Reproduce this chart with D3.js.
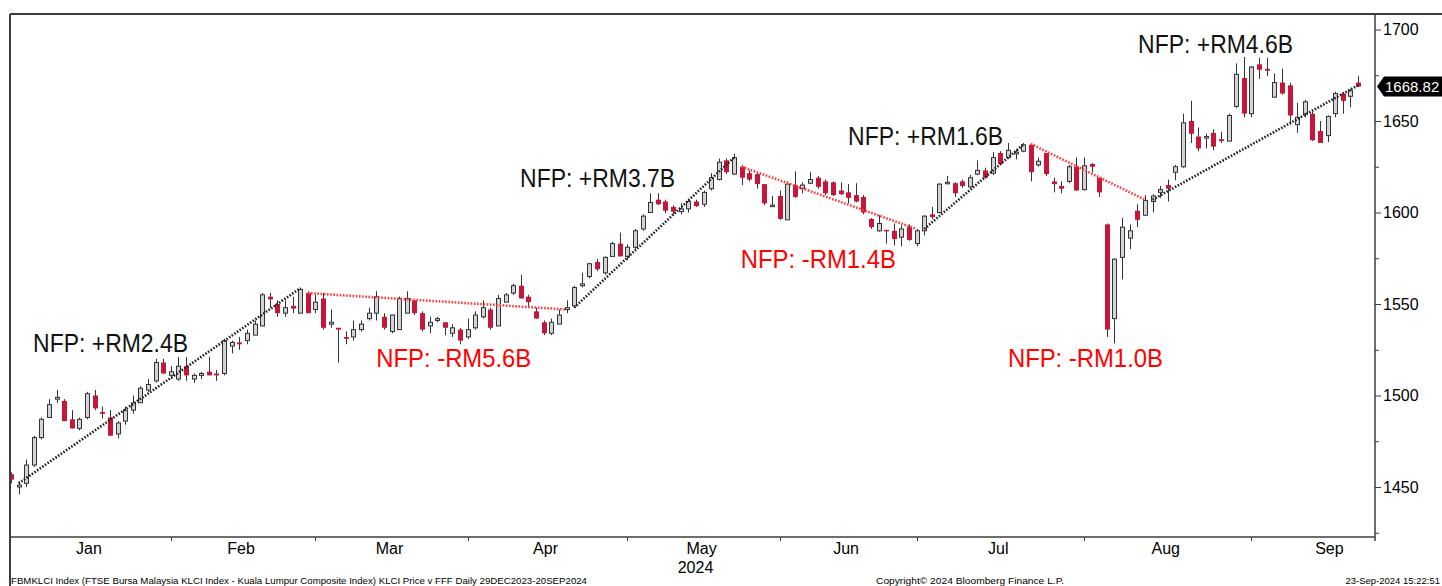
<!DOCTYPE html>
<html><head><meta charset="utf-8">
<script src="https://cdn.jsdelivr.net/npm/d3@7"></script>
<style>body{margin:0;background:#fff;overflow:hidden}svg{display:block}</style>
</head><body>
<svg id="chart" width="1442" height="586"></svg>
<script>
// ---- data (FBMKLCI daily, 29 Dec 2023 - 20 Sep 2024) ----
const opens = [1457,1450,1452,1462,1477,1488,1498,1497,1487,1482,1488,1500,1491,1488,1479,1486,1492,1496,1503,1508,
1518,1511,1509,1516,1509,1511,1513,1512,1512,1527,1529,1530,1533,1538,1554,1550,1545,1549,1545,1556,
1547,1553,1539,1537,1532,1532,1536,1542,1545,1543,1535,1536,1545,1552,1545,1538,1541,1540,1534,1536,
1532,1537,1543,1547,1538,1551,1556,1560,1554,1546,1540,1534,1539,1547,1549,1560,1565,1573,1567,1576,
1583,1576,1581,1591,1600,1607,1606,1603,1600.5,1602,1606,1604.5,1613,1618,1628.5,1621,1625,1621.5,1621,1615.5,
1603.5,1609,1596,1615,1613,1616,1619,1617,1616.5,1612,1611,1609.5,1608.5,1596.5,1590,1590.5,1590,1586.5,1592,1583,
1590,1599,1600,1616,1616,1617,1614,1621,1623,1621.5,1632.5,1630,1632,1633.5,1637,1626,1632.5,1617,1614.5,1617,
1625,1612.5,1626.5,1619,1593.5,1542,1575.5,1586,1601,1598.5,1606,1611,1615,1622,1625,1650,1641.5,1641,1643.5,1640,
1639,1658,1673.5,1654,1681,1678.5,1663,1671,1669.5,1648,1654,1654,1644.5,1642,1654,1665,1663.5,1671];
const highs = [1458,1453,1465,1478,1488,1498,1503,1498,1492,1488,1502,1503,1494,1492,1486,1494,1500,1505,1509,1520,
1520,1516,1521,1521,1512,1513,1521,1514,1531,1530,1532,1536,1541,1556,1556,1552,1552,1554,1559,1557,
1555,1556,1547,1537,1535,1541,1541,1548,1557,1545,1544,1554,1557,1552,1546,1543,1543,1540,1539,1537,
1542,1546,1552,1548,1555,1556,1561,1566,1555,1548,1541,1542,1547,1552,1560,1567,1572.5,1574.5,1576,1584,
1589,1582.5,1591,1599,1610.5,1610.5,1607,1604,1605,1607,1607,1612,1621.5,1629.5,1629.5,1632,1626,1623,1622,1615.5,
1609,1612,1617,1622.5,1616.5,1622,1620,1618,1617,1616.5,1615.5,1616,1609.5,1597,1598.5,1590.5,1594,1593,1593.5,1591,
1598.5,1603,1616,1620,1616.5,1618,1620.5,1628.5,1624.5,1633,1633.5,1638,1634.5,1638,1637.5,1630,1632.5,1619,1617,1626,
1630,1630,1627,1619,1594,1575,1597,1593.5,1604.5,1609.5,1610,1614.5,1618,1626,1654,1661,1646.5,1643,1645.5,1644,
1654,1681.5,1685,1680,1684.5,1684.5,1676,1678.5,1671,1660,1661.5,1655,1650,1653,1666,1666,1667.5,1674.5];
const lows = [1452,1446,1450,1461,1476,1488,1496,1486,1482,1481,1487,1492,1487.5,1478,1476.5,1484,1490,1496,1502,1507,
1512,1509,1508,1508,1507,1509,1511,1508,1511,1523,1525,1528,1533,1538,1548,1543,1543,1545,1545,1545,
1545,1536,1537,1518,1528,1530,1535,1541,1541,1536,1534,1536,1545,1544,1535,1534,1540,1533,1532,1528,
1531,1536,1542,1536,1538,1551,1555,1553,1548,1542,1533,1533,1539,1545,1548,1559,1564,1568,1566,1576,
1576,1574,1580,1590,1600,1604,1599.6,1599,1599,1600,1603,1603,1612,1617.6,1621,1620.5,1615,1617,1613,1604,
1603,1596,1596,1608,1610.5,1615.5,1613,1609.5,1609,1609.5,1605,1605.5,1599,1591,1589.5,1583,1582,1581.5,1584.5,1581.5,
1587.5,1596.5,1599.5,1615.5,1608.5,1613.5,1613.5,1620.5,1618.5,1620.5,1626,1630,1629,1633,1617,1625,1620,1611,1610.5,1616,
1612,1612,1622,1608.5,1532,1528.5,1563.5,1580,1592,1598,1600,1608,1606,1617.6,1624.5,1638,1633.5,1635,1634,1638,
1639,1657,1652,1652,1673,1674.5,1663,1664.5,1648,1643.5,1652,1639,1638,1638.5,1652,1654,1657.5,1668.5];
const closes = [1454,1451,1462,1477,1487,1495,1499,1486,1482,1487,1501,1493,1490,1478,1485,1492,1496,1504,1506,1518,
1512,1513,1516,1511,1511,1512,1511,1511,1530,1529,1528,1534,1539,1555,1552.5,1545,1548,1547.5,1558,1545,
1551,1537,1540,1536,1531,1536,1539,1545,1554,1537,1544,1553,1553,1545,1536,1540,1542,1537,1537,1530,
1536,1544,1548,1537,1553,1555,1560,1553,1551,1542,1534,1540,1544,1548,1559,1561,1572,1569,1575.5,1583,
1576,1581,1590,1598,1605.5,1604.5,1601,1600.5,1602,1606,1603.5,1611,1619,1627.5,1622,1630,1619,1618,1615.5,1605,
1604,1596.5,1615.5,1608.5,1615,1618,1614,1610.5,1609.5,1610,1608,1606,1600,1592,1594,1590,1585.5,1591,1585,1590,
1598,1597.5,1615.5,1616.5,1610.5,1614.5,1619,1623,1619,1630,1626.5,1634,1633,1637,1622,1628,1621,1615.5,1613,1625,
1612,1625.5,1625,1611,1536,1574.5,1592,1590,1596,1606.5,1609,1612.5,1613,1625,1649,1643,1635,1641.5,1636,1639,
1653,1675.5,1654,1679.5,1678,1677.5,1671,1665,1653,1652,1660.5,1639.5,1638,1652.5,1665,1661,1666.5,1668.82];
const lastPrice = 1668.82;

const monthNames = ["Jan","Feb","Mar","Apr","May","Jun","Jul","Aug","Sep"];
const monthBounds = [0,21,40,60,81,101,119,141,163,184]; // trading-day index where each month starts
const yearLabel = "2024";
const yMajorTicks = [1450,1500,1550,1600,1650,1700];
const yMinorTicks = [1425,1475,1525,1575,1625,1675];

// trend segments: [startIdx, startVal, endIdx, endVal]
const trendUp = [[1,1452,38,1558.6],[74,1548,95,1630],[120,1591,133,1637],[150,1607,177,1669.5]];
const trendDown = [[39,1556,73,1547],[96,1625,119,1591],[134,1637.5,149,1607]];

// NFP annotations: text, anchor idx (left), baseline value, up/down
const nfpText = ["NFP: +RM2.4B","NFP: -RM5.6B","NFP: +RM3.7B","NFP: -RM1.4B","NFP: +RM1.6B","NFP: -RM1.0B","NFP: +RM4.6B"];
const nfpIdx  = [2.9, 48, 66.9, 95.9, 110, 131, 148.1];
const nfpVal  = [1523.6, 1515.4, 1613.8, 1569.5, 1636.8, 1515.4, 1687.1];
const nfpPos  = [true,false,true,false,true,false,true];

const footLeft = "FBMKLCI Index (FTSE Bursa Malaysia KLCI Index - Kuala Lumpur Composite Index) KLCI Price v FFF  Daily 29DEC2023-20SEP2024";
const footMid = "Copyright\u00A9 2024 Bloomberg Finance L.P.";
const footRight = "23-Sep-2024 15:22:51";

// ---- layout ----
const L = 10, T = 14, R = 1375, B = 537, W = 1442, H = 586;
const FONT = "'Liberation Sans', Arial, sans-serif";
const RED = "#c8163a", AX = "#3c3c3c";

const candles = opens.map((o,i)=>({i,o,h:highs[i],l:lows[i],c:closes[i]}));
const N = candles.length;
const x = d3.scaleLinear().domain([0, N-1]).range([11, 1358]);
const y = d3.scaleLinear().domain([1450, 1700]).range([487, 29.5]);

const svg = d3.select("#chart");
svg.append("defs").append("clipPath").attr("id","plot")
  .append("rect").attr("x",L+1).attr("y",T+1).attr("width",R-L-1).attr("height",B-T-1);

const plot = svg.append("g").attr("clip-path","url(#plot)");

// candles
const cg = plot.append("g");
const bw = 5;
candles.forEach(d=>{
  const cx = Math.round(x(d.i));
  cg.append("line").attr("x1",cx+0.5).attr("x2",cx+0.5).attr("y1",y(d.h)).attr("y2",y(d.l))
    .attr("stroke","#333").attr("stroke-width",1);
  const up = d.c >= d.o;
  const top = y(Math.max(d.o,d.c)), bot = y(Math.min(d.o,d.c));
  const hgt = Math.max(1.5, bot-top);
  if (up) {
    cg.append("rect").attr("x",cx-2+0.5).attr("y",top).attr("width",bw-1).attr("height",hgt)
      .attr("fill","#d4d4d4").attr("stroke","#333").attr("stroke-width",1);
  } else {
    cg.append("rect").attr("x",cx-2).attr("y",top).attr("width",bw).attr("height",hgt)
      .attr("fill",RED);
  }
});

// trend lines
const tg = plot.append("g");
trendUp.forEach(s=>{
  tg.append("line").attr("x1",x(s[0])).attr("y1",y(s[1])).attr("x2",x(s[2])).attr("y2",y(s[3]))
    .attr("stroke","#222").attr("stroke-width",2.6).attr("stroke-dasharray","1.6,1.6");
});
trendDown.forEach(s=>{
  tg.append("line").attr("x1",x(s[0])).attr("y1",y(s[1])).attr("x2",x(s[2])).attr("y2",y(s[3]))
    .attr("stroke","#ff3b3b").attr("stroke-width",2.6).attr("stroke-dasharray","1.6,1.6");
});

// annotations
nfpText.forEach((t,k)=>{
  svg.append("text").attr("x",x(nfpIdx[k])).attr("y",y(nfpVal[k]))
    .attr("font-family",FONT).attr("font-size",25)
    .attr("textLength",155).attr("lengthAdjust","spacingAndGlyphs")
    .attr("fill", nfpPos[k] ? "#111" : "#ff0000").text(t);
});

// frame
svg.append("line").attr("x1",L).attr("x2",W).attr("y1",T).attr("y2",T).attr("stroke",AX).attr("stroke-width",2);
svg.append("line").attr("x1",L).attr("x2",L).attr("y1",T).attr("y2",H).attr("stroke",AX).attr("stroke-width",2);
svg.append("line").attr("x1",L).attr("x2",R).attr("y1",B).attr("y2",B).attr("stroke",AX).attr("stroke-width",1.5);

// right y axis
const yAxis = svg.append("g").attr("transform",`translate(${R},0)`)
  .call(d3.axisRight(y).tickValues(yMajorTicks).tickSize(6).tickPadding(2).tickFormat(d3.format("d")));
yAxis.select(".domain").attr("d",`M0,${T}V${B+4}`).attr("stroke",AX).attr("stroke-width",1.5);
yAxis.selectAll(".tick line").attr("stroke",AX);
yAxis.selectAll(".tick text").attr("font-family",FONT).attr("font-size",16).attr("fill","#000");
const yMinor = svg.append("g").attr("transform",`translate(${R},0)`)
  .call(d3.axisRight(y).tickValues(yMinorTicks).tickSize(4).tickFormat(""));
yMinor.select(".domain").remove();
yMinor.selectAll(".tick line").attr("stroke",AX);

// x axis (months)
const xg = svg.append("g");
monthBounds.slice(1, monthNames.length).forEach(b=>{
  const px = Math.round(x(b));
  xg.append("line").attr("x1",px+0.5).attr("x2",px+0.5).attr("y1",B).attr("y2",B+4).attr("stroke",AX);
});
monthNames.forEach((m,k)=>{
  const mid = (monthBounds[k]+monthBounds[k+1])/2;
  xg.append("text").attr("x",x(mid)-2).attr("y",554).attr("text-anchor","middle")
    .attr("font-family",FONT).attr("font-size",16).attr("fill","#000").text(m);
});
xg.append("text").attr("x",x((monthBounds[4]+monthBounds[5])/2)-8).attr("y",573).attr("text-anchor","middle")
  .attr("font-family",FONT).attr("font-size",16).attr("fill","#000").text(yearLabel);

// last price tag
const ly = y(lastPrice);
svg.append("path").attr("d",`M${R+2},${ly}L${R+9},${ly-10}H${W}V${ly+10}H${R+9}Z`).attr("fill","#000");
svg.append("text").attr("x",R+10).attr("y",ly+5.5).attr("font-family",FONT).attr("font-size",15)
  .attr("fill","#fff").text(d3.format(".2f")(lastPrice));

// footer
svg.append("text").attr("x",L+1).attr("y",584).attr("font-family",FONT).attr("font-size",9.5)
  .attr("textLength",576).attr("lengthAdjust","spacingAndGlyphs").attr("fill","#000").text(footLeft);
svg.append("text").attr("x",876).attr("y",584).attr("font-family",FONT).attr("font-size",9.5)
  .attr("textLength",188).attr("lengthAdjust","spacingAndGlyphs").attr("fill","#000").text(footMid);
svg.append("text").attr("x",1440).attr("y",584).attr("text-anchor","end").attr("font-family",FONT).attr("font-size",9.5)
  .attr("fill","#000").text(footRight);
</script>
</body></html>
